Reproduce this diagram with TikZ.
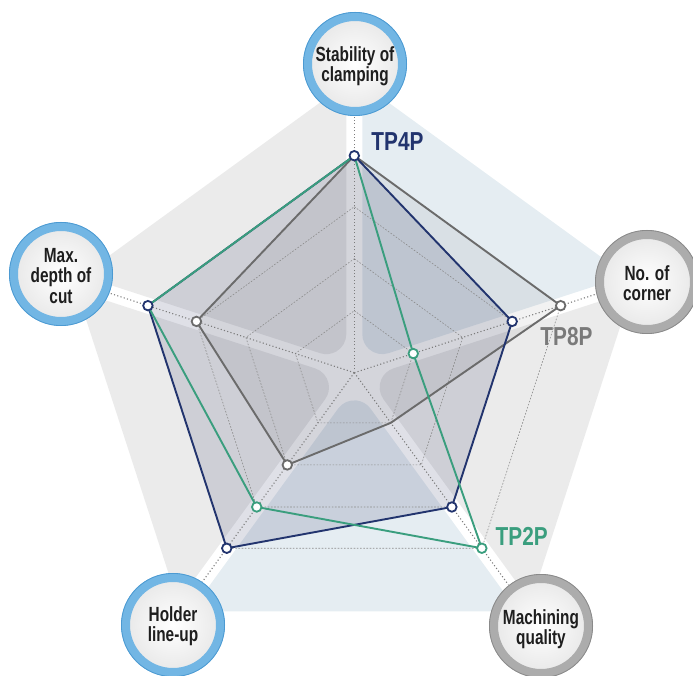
\documentclass[tikz,border=0pt]{standalone}
\usepackage{fontspec}
\setmainfont{Liberation Sans}
\newfontfamily\cond{Liberation Sans}[FakeStretch=0.75]
\newfontfamily\condt{Liberation Sans}[FakeStretch=0.8]
\usetikzlibrary{calc}
\definecolor{navyc}{HTML}{22346E}
\definecolor{navyfill}{HTML}{2A3060}
\definecolor{grayc}{HTML}{6B6B6B}
\definecolor{graytag}{HTML}{7A7A7A}
\definecolor{greenc}{HTML}{3A9E7E}
\definecolor{sectgray}{HTML}{EBEBEB}
\definecolor{sectblue}{HTML}{E5EDF2}
\definecolor{ringblue}{HTML}{72B6E4}
\definecolor{ringblued}{HTML}{4C9AD2}
\definecolor{ringgray}{HTML}{ACACAC}
\definecolor{ringgrayd}{HTML}{8A8A8A}
\definecolor{diskc}{HTML}{E8E8E8}
\definecolor{txt}{HTML}{1E1E1E}
\definecolor{gridc}{HTML}{8C8C8C}
\definecolor{axisc}{HTML}{7C7C7C}
\tikzset{
  lbl/.style={align=center, font=\cond\bfseries\fontsize{20.5}{20.5}\selectfont, text=txt, inner sep=0pt},
  tag/.style={font=\condt\bfseries\fontsize{26}{26}\selectfont, inner sep=0pt},
  ringb/.style={circle, minimum size=95pt, draw=ringblue, line width=9pt, inner color=white, outer color=diskc},
  ringg/.style={circle, minimum size=95pt, draw=ringgray, line width=9pt, inner color=white, outer color=diskc},
  gridline/.style={gridc, line width=0.6pt, dash pattern=on 1.6pt off 1.6pt},
  axisdot/.style={axisc, line width=1.1pt, dash pattern=on 1.1pt off 2.3pt},
  series/.style={line width=1.9pt, line join=round},
  dotn/.style={circle, draw=navyc, fill=white, line width=1.8pt, minimum size=9.5pt, inner sep=0pt},
  dotg/.style={circle, draw=grayc, fill=white, line width=1.8pt, minimum size=9.5pt, inner sep=0pt},
  dote/.style={circle, draw=greenc, fill=white, line width=1.8pt, minimum size=9.5pt, inner sep=0pt},
}
\begin{document}
\begin{tikzpicture}[x=1pt,y=1pt]
\useasboundingbox (0,0) rectangle (693,675);
\clip (0,0) rectangle (693,675);
\coordinate (C) at (354.3,302.3);
% sectors of the background pentagon
\foreach \al/\col in {18/sectblue,-54/sectgray,-126/sectblue,162/sectgray,90/sectgray}{
  \coordinate (pa) at ($(C)+(\al:295)$);
  \coordinate (pb) at ($(C)+(\al+72:295)$);
  \coordinate (o1) at ($(pa)!9.9pt!(pb)$);
  \coordinate (o2) at ($(pb)!9.9pt!(pa)$);
  \coordinate (ap) at ($(C)+(\al+36:{8/sin(36)})$);
  \coordinate (t1) at ($(ap)+(\al:{20/tan(36)})$);
  \fill[\col] (o1) -- (t1) arc[start angle=\al-90, end angle=\al-198, radius=20] -- (o2) -- cycle;
}
% data points
\coordinate (n1) at ($(C)+(90:217)$);
\coordinate (n2) at ($(C)+(18:166)$);
\coordinate (n3) at ($(C)+(-54:166)$);
\coordinate (n4) at ($(C)+(-126:217)$);
\coordinate (n5) at ($(C)+(162:217)$);
\coordinate (g1) at ($(C)+(90:217)$);
\coordinate (g2) at ($(C)+(18:217)$);
\coordinate (g3) at ($(C)+(-54:62)$);
\coordinate (g4) at ($(C)+(-126:114)$);
\coordinate (g5) at ($(C)+(162:166)$);
\coordinate (e1) at ($(C)+(90:217)$);
\coordinate (e2) at ($(C)+(18:62)$);
\coordinate (e3) at ($(C)+(-54:217)$);
\coordinate (e4) at ($(C)+(-126:166)$);
\coordinate (e5) at ($(C)+(162:217)$);
% translucent fills
\fill[navyfill, fill opacity=0.15] (n1) -- (n2) -- (n3) -- (n4) -- (n5) -- cycle;
\fill[black, fill opacity=0.05] (g1) -- (g2) -- (g3) -- (g4) -- (g5) -- cycle;
% grid
\foreach \r in {62,114,166,217}{
  \draw[gridline] ($(C)+(90:\r)$) -- ($(C)+(18:\r)$) -- ($(C)+(-54:\r)$) -- ($(C)+(-126:\r)$) -- ($(C)+(162:\r)$) -- cycle;
}
\foreach \a in {90,18,-54,-126,162}{
  \draw[axisdot] (C) -- ($(C)+(\a:262)$);
}
% series lines
\draw[series, grayc] (g1) -- (g2) -- (g3) -- (g4) -- (g5) -- cycle;
\draw[series, navyc] (n1) -- (n2) -- (n3) -- (n4) -- (n5) -- cycle;
\draw[series, greenc] (e1) -- (e2) -- (e3) -- (e4) -- (e5) -- cycle;
% markers
\node[dotg] (mg2) at (g2) {};
\node[dotg] (mg4) at (g4) {};
\node[dotg] (mg5) at (g5) {};
\node[dote] (me2) at (e2) {};
\node[dote] (me3) at (e3) {};
\node[dote] (me4) at (e4) {};
\node[dotn] (mn1) at (n1) {};
\node[dotn] (mn2) at (n2) {};
\node[dotn] (mn3) at (n3) {};
\node[dotn] (mn4) at (n4) {};
\node[dotn] (mn5) at (n5) {};
% tags
\node[tag, text=navyc] (t4) at (397.5,533) {TP4P};
\node[tag, text=graytag] (t8) at (566.5,338) {TP8P};
\node[tag, text=greenc] (t2) at (521.7,138.5) {TP2P};
% criterion circles
\node[ringb] (top) at (355,611) {};
\node[ringb] (left) at (61,401) {};
\node[ringg] (right) at (647,393) {};
\node[ringb] (bl) at (173,50) {};
\node[ringg] (br) at (541,49) {};
\foreach \n in {top,left,bl}{
  \draw[ringblued, line width=0.8pt] (\n.center) circle (51.6);
}
\foreach \n in {right,br}{
  \draw[ringgrayd, line width=0.8pt] (\n.center) circle (51.6);
}
\node[lbl] (ltop) at ($(top.center)+(0,-2.5)$) {Stability of\\clamping};
\node[lbl] (lleft) at ($(left.center)+(0,-2)$) {Max.\\depth of\\cut};
\node[lbl] (lright) at ($(right.center)+(0,-1)$) {No. of\\corner};
\node[lbl] (lbl) at ($(bl.center)+(0,-1)$) {Holder\\line-up};
\node[lbl] (lbr) at ($(br.center)+(0,-3)$) {Machining\\quality};
\end{tikzpicture}
\end{document}
